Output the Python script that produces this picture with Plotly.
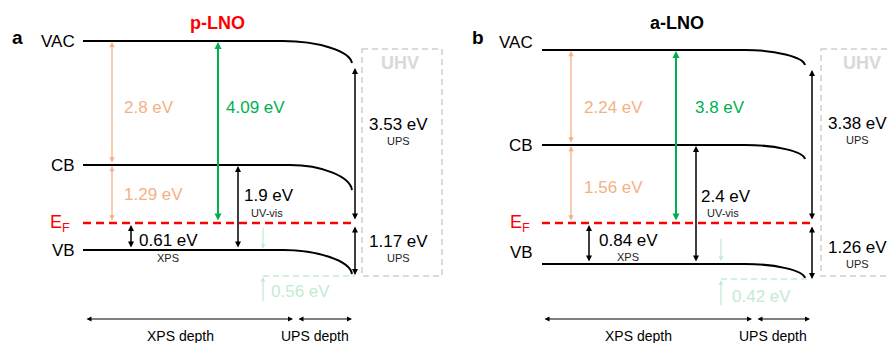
import plotly.graph_objects as go

# ---------------- data ----------------
PANELS = ["a", "b"]
MATERIALS = ["p-LNO", "a-LNO"]
LEVEL_NAMES = ["VAC", "CB", "VB"]
VAC_CB = [2.8, 2.24]        # eV, orange
CB_EF = [1.29, 1.56]        # eV, orange
WORK_FN = [4.09, 3.8]       # eV, green
EF_VB_XPS = [0.61, 0.84]    # eV, XPS
GAP_UVVIS = [1.9, 2.4]      # eV, UV-vis
VAC_EF_UPS = [3.53, 3.38]   # eV, UPS
EF_VB_UPS = [1.17, 1.26]    # eV, UPS
BEND = [0.56, 0.42]         # eV, band bending
DEPTH_LABELS = ["XPS depth", "UPS depth"]

# ---------------- schematic geometry (layout, not data) ----------------
GEO = [
    dict(xl=83, vac=41, cb=165, ef=223, vb=250, xs=283, xe=352,
         vac_e=63, cb_e=190, vb_e=274, xr=355, box=(362, 442, 49, 276),
         uhv=(400, 63), ups1=(398, 124), ups2=(398, 241),
         xo=112, xg=218, xk=131, xu=238, xlg=263, lg_down=(226, 249),
         bend_y=276, bend_tail=303, bend_lbl=(300, 291),
         dep=(85, 293, 297, 352), dep_lbl=(180, 315),
         lbl_r=77, lbl_y=(41, 165, 250), ef_lbl=(72, 223), letter=(17, 37),
         title=(217, 23), title_col="#FF0000",
         t_o=122, t_o_y=(107, 194), t_g=224, t_k=(137, 240, 168, 258),
         t_u=(242, 195, 267, 213)),
    dict(xl=542, vac=50, cb=145, ef=223, vb=264, xs=745, xe=805,
         vac_e=65, cb_e=159, vb_e=278, xr=812, box=(821, 905, 49, 276),
         uhv=(862, 63), ups1=(857, 123), ups2=(857, 247),
         xo=571, xg=676, xk=589, xu=696, xlg=721, lg_down=(237, 261),
         bend_y=279, bend_tail=307, bend_lbl=(761, 296),
         dep=(543, 752, 756, 810), dep_lbl=(638, 773),
         lbl_r=535, lbl_y=(42, 145, 252), ef_lbl=(532, 223), letter=(478, 37),
         title=(677, 23), title_col="#000000",
         t_o=582, t_o_y=(107, 187), t_g=693, t_k=(597, 240, 628, 257),
         t_u=(699, 196, 723, 213)),
]

ORANGE = "#F4B183"
GREEN = "#00B050"
LGREEN = "#C3EBD2"
RED = "#FF0000"
BOXGRAY = "#D0D0D0"
UHVGRAY = "#D9D9D9"
FONT = "Arial, Liberation Sans, sans-serif"


def ev(v):
    return f"{v:g} eV"


fig = go.Figure()
fig.add_trace(go.Scatter(x=[0, 890], y=[0, 343], mode="markers",
                         marker=dict(opacity=0), hoverinfo="skip"))

shapes = []
ann = []


def text(x, y, s, size=17, color="black", anchor="center", bold=False, va="middle"):
    if bold:
        s = f"<b>{s}</b>"
    ann.append(dict(x=x, y=y, xref="x", yref="y", text=s, showarrow=False,
                    xanchor=anchor, yanchor=va,
                    font=dict(family=FONT, size=size, color=color)))


def arrow(x0, y0, x1, y1, color="black", width=1.5, both=True, size=1.0):
    ann.append(dict(x=x1, y=y1, ax=x0, ay=y0, xref="x", yref="y",
                    axref="x", ayref="y", text="", showarrow=True,
                    arrowhead=2, arrowsize=size, arrowwidth=width,
                    arrowcolor=color, standoff=0, startstandoff=0,
                    arrowside="end+start" if both else "end"))


for i, g in enumerate(GEO):
    # band levels with surface band bending
    for y0, y1, xs in [(g["vac"], g["vac_e"], g["xs"]),
                       (g["cb"], g["cb_e"], g["xs"] + 7 if i == 0 else g["xs"]),
                       (g["vb"], g["vb_e"], g["xs"])]:
        dx = g["xe"] - xs
        dy = y1 - y0
        path = (f"M {g['xl']},{y0} L {xs},{y0} "
                f"C {xs + 0.5 * dx},{y0} {g['xe'] - 0.03 * dx},{y0 + 0.45 * dy} "
                f"{g['xe']},{y1}")
        shapes.append(dict(type="path", path=path, xref="x", yref="y",
                           line=dict(color="black", width=2)))
    # Fermi level
    shapes.append(dict(type="line", x0=g["xl"], x1=g["xr"], y0=g["ef"], y1=g["ef"],
                       xref="x", yref="y",
                       line=dict(color=RED, width=2.5, dash="8px,5px")))
    # UHV box
    bx0, bx1, by0, by1 = g["box"]
    shapes.append(dict(type="rect", x0=bx0, x1=bx1, y0=by0, y1=by1, xref="x", yref="y",
                       line=dict(color=BOXGRAY, width=1.5, dash="6px,4px")))
    text(g["uhv"][0], g["uhv"][1], "UHV", size=18, color=UHVGRAY, bold=True)

    # band-bending reference (light green)
    shapes.append(dict(type="line", x0=g["xlg"], x1=g["xr"], y0=g["bend_y"], y1=g["bend_y"],
                       xref="x", yref="y",
                       line=dict(color=LGREEN, width=1.5, dash="6px,4px")))
    arrow(g["xlg"], g["bend_tail"], g["xlg"], g["bend_y"] + 1, color=LGREEN, width=1.2,
          both=False, size=0.8)
    arrow(g["xlg"], g["lg_down"][0], g["xlg"], g["lg_down"][1], color=LGREEN, width=1.2,
          both=False, size=0.8)
    text(g["bend_lbl"][0], g["bend_lbl"][1], ev(BEND[i]), size=17, color=LGREEN)

    # orange arrows
    arrow(g["xo"], g["cb"] - 1, g["xo"], g["vac"] + 1, color=ORANGE, width=1.3, size=0.8)
    arrow(g["xo"], g["ef"] - 1, g["xo"], g["cb"] + 1, color=ORANGE, width=1.3, size=0.8)
    text(g["t_o"], g["t_o_y"][0], ev(VAC_CB[i]), color=ORANGE, anchor="left")
    text(g["t_o"], g["t_o_y"][1], ev(CB_EF[i]), color=ORANGE, anchor="left")

    # green work function
    arrow(g["xg"], g["ef"] - 1, g["xg"], g["vac"] + 1, color=GREEN, width=2, size=0.7)
    text(g["t_g"], 107, ev(WORK_FN[i]), color=GREEN, anchor="left")

    # XPS EF-VB
    arrow(g["xk"], g["vb"] - 1, g["xk"], g["ef"] + 2, width=1.5, size=0.8)
    text(g["t_k"][0], g["t_k"][1], ev(EF_VB_XPS[i]), anchor="left")
    text(g["t_k"][2], g["t_k"][3], "XPS", size=11, color="#222222")

    # UV-vis gap
    arrow(g["xu"], g["vb"] - 1, g["xu"], g["cb"] + 1, width=1.5, size=0.8)
    text(g["t_u"][0], g["t_u"][1], ev(GAP_UVVIS[i]), anchor="left")
    text(g["t_u"][2], g["t_u"][3], "UV-vis", size=11, color="#222222")

    # UPS arrows
    arrow(g["xr"], g["ef"] - 2, g["xr"], g["vac_e"] + 5, width=1.5, size=0.8)
    arrow(g["xr"], g["ef"] + 2, g["xr"], g["vb_e"] + 1, width=1.5, size=0.8)
    text(g["ups1"][0], g["ups1"][1], ev(VAC_EF_UPS[i]))
    text(g["ups1"][0], g["ups1"][1] + 17, "UPS", size=11, color="#222222")
    text(g["ups2"][0], g["ups2"][1], ev(EF_VB_UPS[i]))
    text(g["ups2"][0], g["ups2"][1] + 17, "UPS", size=11, color="#222222")

    # depth arrows
    d0, d1, d2, d3 = g["dep"]
    arrow(d0, 319, d1, 319, width=1, size=1)
    arrow(d2, 319, d3, 319, width=1, size=1)
    text(g["dep_lbl"][0], 336, DEPTH_LABELS[0], size=14)
    text(g["dep_lbl"][1], 336, DEPTH_LABELS[1], size=14)

    # level labels
    for name, ly in zip(LEVEL_NAMES, g["lbl_y"]):
        text(g["lbl_r"], ly, name, anchor="right")
    text(g["ef_lbl"][0], g["ef_lbl"][1], "E<sub>F</sub>", color=RED, anchor="right", size=18)

    # panel letter and title
    text(g["letter"][0], g["letter"][1], PANELS[i], size=19, bold=True)
    text(g["title"][0], g["title"][1], MATERIALS[i], size=18, color=g["title_col"], bold=True)

fig.update_layout(
    width=890, height=343,
    margin=dict(l=0, r=0, t=0, b=0),
    paper_bgcolor="white", plot_bgcolor="white",
    showlegend=False,
    xaxis=dict(range=[0, 890], visible=False, fixedrange=True),
    yaxis=dict(range=[343, 0], visible=False, fixedrange=True),
    shapes=shapes, annotations=ann,
)

fig.write_html("out.html")
